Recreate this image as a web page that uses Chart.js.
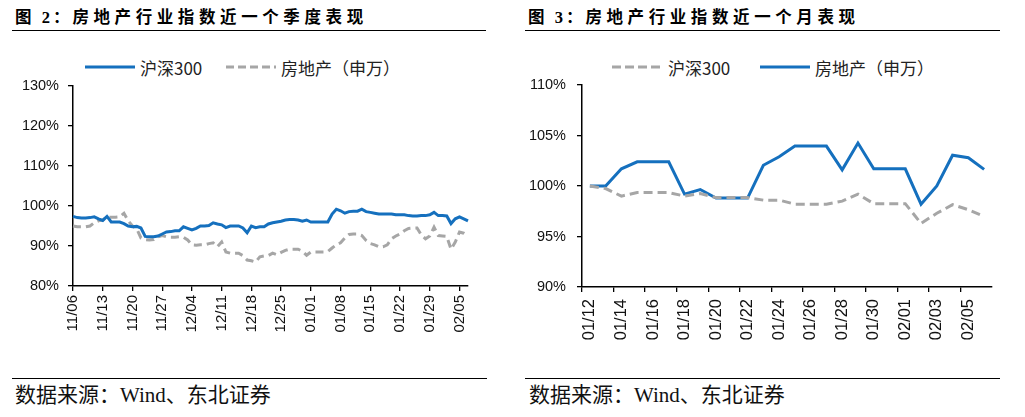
<!DOCTYPE html>
<html>
<head>
<meta charset="utf-8">
<script src="https://cdn.jsdelivr.net/npm/chart.js@4.4.1/dist/chart.umd.min.js"></script>
<style>
  html, body { margin: 0; padding: 0; background: #fff; }
  body { width: 1025px; height: 417px; position: relative; overflow: hidden; }
  .title { position: absolute; top: 9px; font-family: "Liberation Serif", "Noto Sans CJK SC", serif; font-weight: bold; font-size: 16.5px; letter-spacing: 4.6px; color: #000; white-space: nowrap; line-height: 18px; }
  .title .pre { letter-spacing: 3px; }
  .rule { position: absolute; height: 0; border-top: 1.5px solid #000; }
  .foot { position: absolute; top: 384px; font-family: "Liberation Serif", "Noto Sans CJK SC", serif; font-size: 21px; color: #111; white-space: nowrap; line-height: 22px; }
  .leg { position: absolute; top: 57px; height: 20px; display: flex; align-items: center; font-family: "Noto Sans CJK SC", sans-serif; font-size: 17px; color: #222; white-space: nowrap; }
  .leg svg { display: block; }
  canvas { position: absolute; top: 40px; }
</style>
</head>
<body>
<div class="title" style="left:15px;"><span class="pre">图 2：</span>房地产行业指数近一个季度表现</div>
<div class="rule" style="left:12px; width:474px; top:30px;"></div>
<div class="title" style="left:528px;"><span class="pre">图 3：</span>房地产行业指数近一个月表现</div>
<div class="rule" style="left:525px; width:475px; top:30px;"></div>

<div class="leg" style="left:85px;"><svg width="50" height="6"><line x1="0" y1="3" x2="50" y2="3" stroke="#1570BE" stroke-width="3"/></svg><span style="margin-left:5px;">沪深300</span></div>
<div class="leg" style="left:226px;"><svg width="50" height="6"><line x1="0" y1="3" x2="50" y2="3" stroke="#A6A6A6" stroke-width="3" stroke-dasharray="8 4"/></svg><span style="margin-left:5px;">房地产（申万）</span></div>

<div class="leg" style="left:612px;"><svg width="48" height="6"><line x1="0" y1="3" x2="48" y2="3" stroke="#A6A6A6" stroke-width="3" stroke-dasharray="9 4"/></svg><span style="margin-left:8px;">沪深300</span></div>
<div class="leg" style="left:760px;"><svg width="50" height="6"><line x1="0" y1="3" x2="50" y2="3" stroke="#1570BE" stroke-width="3"/></svg><span style="margin-left:5px;">房地产（申万）</span></div>

<canvas id="c1" width="490" height="320" style="left:0px;"></canvas>
<canvas id="c2" width="500" height="320" style="left:512px;"></canvas>

<div class="rule" style="left:12px; width:475px; top:378px;"></div>
<div class="foot" style="left:15px;">数据来源：Wind、东北证券</div>
<div class="rule" style="left:525px; width:475px; top:378px;"></div>
<div class="foot" style="left:529px;">数据来源：Wind、东北证券</div>

<script>
// ---------- Figure 2: quarter ----------
const quarterLabels = [
  "11/06","11/07","11/08","11/09","11/10","11/11","11/12","11/13","11/14","11/15","11/16","11/17","11/18","11/19","11/20","11/21","11/22","11/23","11/24","11/25","11/26","11/27","11/28","11/29","11/30",
  "12/01","12/02","12/03","12/04","12/05","12/06","12/07","12/08","12/09","12/10","12/11","12/12","12/13","12/14","12/15","12/16","12/17","12/18","12/19","12/20","12/21","12/22","12/23","12/24","12/25","12/26","12/27","12/28","12/29","12/30","12/31",
  "01/01","01/02","01/03","01/04","01/05","01/06","01/07","01/08","01/09","01/10","01/11","01/12","01/13","01/14","01/15","01/16","01/17","01/18","01/19","01/20","01/21","01/22","01/23","01/24","01/25","01/26","01/27","01/28","01/29","01/30","01/31",
  "02/01","02/02","02/03","02/04","02/05","02/06","02/07"
];
const quarterHS300 = [
  97.4,97.1,97.0,97.0,97.1,97.3,96.8,96.4,97.4,96.0,96.0,96.0,95.6,95.0,94.8,94.9,94.5,92.4,92.3,92.3,
  92.5,93.0,93.5,93.6,93.8,93.8,94.8,94.4,94.0,94.4,95.0,95.0,95.1,95.8,95.5,95.3,94.6,95.0,95.0,95.0,
  94.5,93.3,95.0,94.6,94.8,94.8,95.5,95.8,96.0,96.2,96.5,96.6,96.6,96.5,96.2,96.5,96.0,96.0,96.0,96.0,
  96.0,98.0,99.2,98.8,98.2,98.6,98.7,98.7,99.2,98.6,98.4,98.2,98.0,98.0,98.0,98.0,97.8,97.8,97.8,97.6,
  97.5,97.5,97.6,97.6,97.8,98.4,97.6,97.6,97.5,95.6,96.8,97.3,96.8,96.3
];
const quarterRealEstate = [
  95.0,94.8,94.8,94.8,95.0,95.8,96.3,96.5,97.2,97.2,97.2,97.3,98.2,96.3,95.0,94.3,92.0,91.6,91.5,91.6,
  92.3,92.6,92.3,92.2,92.2,92.3,92.2,91.5,90.3,90.2,90.3,90.3,90.6,90.8,89.8,91.0,88.5,88.2,88.2,88.2,
  87.6,86.5,86.3,86.0,87.3,87.5,87.6,88.2,87.8,88.4,88.9,89.2,89.2,89.2,88.7,87.7,88.5,88.5,88.5,88.5,
  88.6,89.5,90.3,90.8,92.0,92.9,93.0,93.0,92.6,91.4,90.6,90.3,89.8,89.8,90.3,91.8,92.5,93.0,93.8,94.4,
  94.5,94.5,92.8,91.8,92.5,94.7,92.6,92.5,92.4,89.2,91.0,93.5,93.2,92.5
];
const quarterYTicks = [80, 90, 100, 110, 120, 130];

// ---------- Figure 3: month ----------
const monthLabels = [
  "01/12","01/13","01/14","01/15","01/16","01/17","01/18","01/19","01/20","01/21","01/22","01/23","01/24","01/25","01/26","01/27","01/28","01/29","01/30","01/31",
  "02/01","02/02","02/03","02/04","02/05","02/06"
];
const monthHS300 = [
  100.0,99.75,99.0,99.35,99.35,99.35,99.0,99.25,98.85,98.85,98.85,98.6,98.6,98.2,98.2,98.2,98.5,99.2,98.25,98.25,
  98.25,96.3,97.3,98.15,97.65,97.0
];
const monthRealEstate = [
  100.0,100.0,101.7,102.4,102.4,102.4,99.2,99.65,98.8,98.8,98.8,102.05,102.9,103.95,103.95,103.95,101.6,104.25,101.7,101.7,
  101.7,98.2,100.0,103.05,102.8,101.65
];
const monthYTicks = [90, 95, 100, 105, 110];

const BLUE = '#1570BE';
const GRAY = '#A6A6A6';
const TICK_FONT = "'Liberation Sans', Arial, sans-serif";

function makeChart(id, labels, datasets, yTicks, opts) {
  const step = opts.labelStep;
  return new Chart(document.getElementById(id), {
    type: 'line',
    data: { labels: labels, datasets: datasets },
    options: {
      responsive: false,
      animation: false,
      devicePixelRatio: 1,
      layout: { padding: { top: opts.padTop, right: opts.padRight, left: 0, bottom: 0 } },
      plugins: { legend: { display: false }, tooltip: { enabled: false } },
      elements: { point: { radius: 0 }, line: { tension: 0 } },
      scales: {
        x: {
          type: 'category',
          offset: opts.offset,
          grid: {
            display: true, drawOnChartArea: false, drawTicks: true, tickLength: 5,
            offset: opts.offset,
            lineWidth: 1.3,
            color: (ctx) => (ctx.index % step === 0 ? '#000' : 'rgba(0,0,0,0)')
          },
          border: { display: true, color: '#000', width: 1.5 },
          ticks: {
            autoSkip: false, minRotation: 90, maxRotation: 90,
            padding: opts.xPad,
            color: '#111',
            font: { family: TICK_FONT, size: opts.xFont },
            callback: function (val, idx) { return idx % step === 0 ? labels[idx] : ''; }
          },
          afterFit: (s) => { s.height = opts.xHeight; }
        },
        y: {
          min: yTicks[0], max: yTicks[yTicks.length - 1],
          afterBuildTicks: (s) => { s.ticks = yTicks.map(v => ({ value: v })); },
          grid: { display: true, drawOnChartArea: false, drawTicks: true, tickLength: 5, color: '#000', lineWidth: 1.3 },
          border: { display: true, color: '#000', width: 1.5 },
          ticks: {
            padding: opts.yPad,
            color: '#111',
            font: { family: TICK_FONT, size: 14.5 },
            callback: (v) => v + '%'
          },
          afterFit: (s) => { s.width = opts.yWidth; }
        }
      }
    }
  });
}

makeChart('c1', quarterLabels, [
  { label: '沪深300', data: quarterHS300, borderColor: BLUE, borderWidth: 3, fill: false },
  { label: '房地产（申万）', data: quarterRealEstate, borderColor: GRAY, borderWidth: 3, borderDash: [8, 5], fill: false }
], quarterYTicks, { labelStep: 7, offset: false, padTop: 46, padRight: 15, xHeight: 74, yWidth: 73, xPad: 4, yPad: 9, xFont: 15 });

makeChart('c2', monthLabels, [
  { label: '沪深300', data: monthHS300, borderColor: GRAY, borderWidth: 3, borderDash: [9, 5], fill: false },
  { label: '房地产（申万）', data: monthRealEstate, borderColor: BLUE, borderWidth: 3, fill: false }
], monthYTicks, { labelStep: 2, offset: true, padTop: 45, padRight: 20, xHeight: 73, yWidth: 70, xPad: 7, yPad: 11, xFont: 16.5 });
</script>
</body>
</html>
